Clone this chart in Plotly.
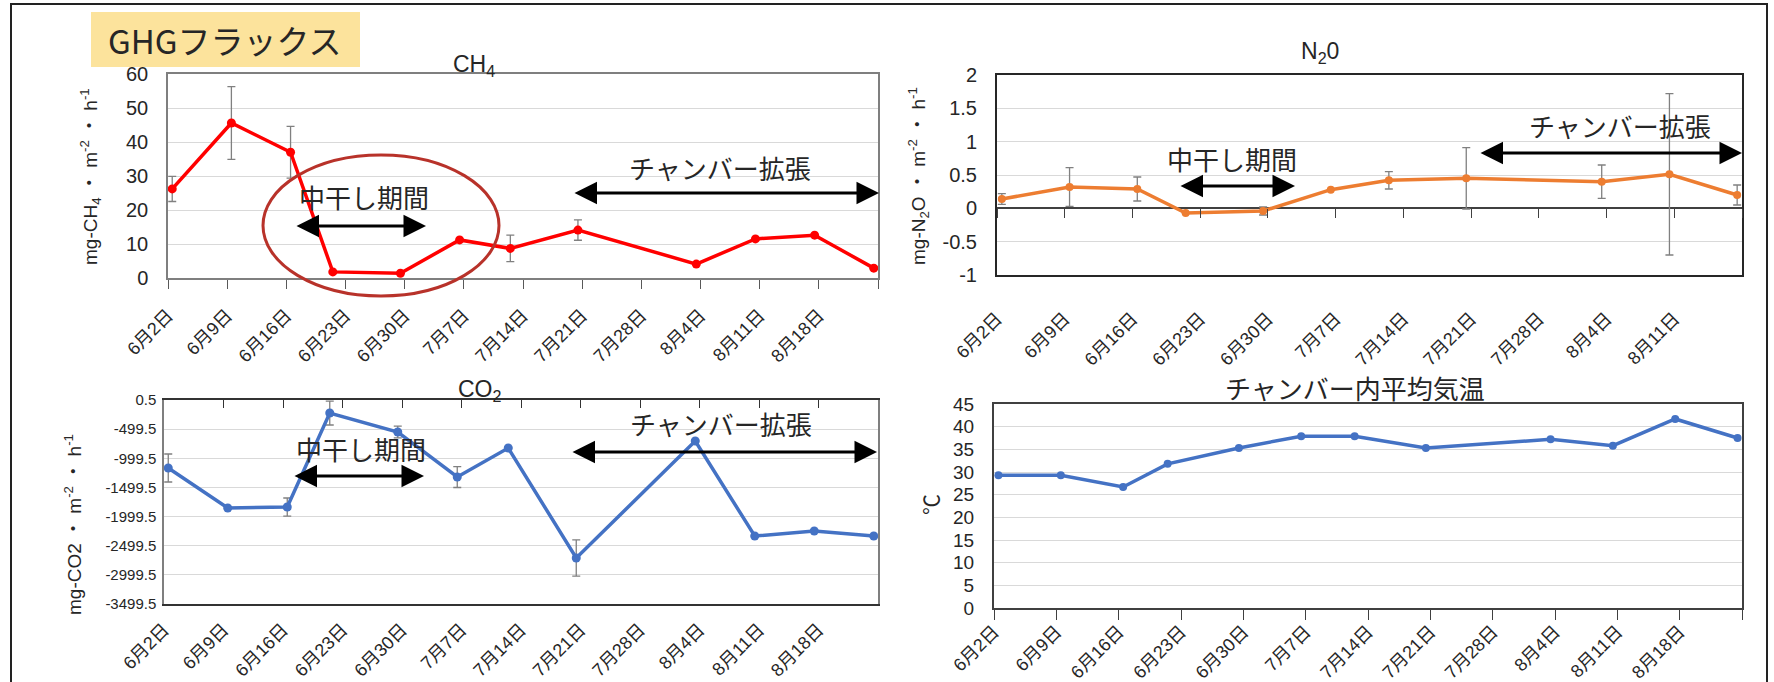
import plotly.graph_objects as go
import pandas as pd

W, H = 1774, 682

# ---------------- data ----------------
DATES = ["2023-06-02", "2023-06-09", "2023-06-16", "2023-06-21", "2023-06-29", "2023-07-06",
         "2023-07-12", "2023-07-20", "2023-08-03", "2023-08-10", "2023-08-17", "2023-08-24"]
CH4 = [26.2, 45.6, 37.0, 1.8, 1.4, 11.2, 8.7, 14.1, 4.1, 11.5, 12.6, 2.9]
CH4_ERR = [3.7, 10.7, 7.6, 0, 0, 0, 3.9, 3.0, 0, 0, 0, 0]

N2O_DATES = DATES[:11]
N2O = [0.14, 0.32, 0.29, -0.07, -0.04, 0.28, 0.42, 0.45, 0.40, 0.51, 0.20]
N2O_ERR = [0.08, 0.29, 0.18, 0, 0.06, 0, 0.13, 0.46, 0.25, 1.21, 0.15]

CO2 = [-1166, -1853, -1836, -223, -549, -1321, -823, -2711, -703, -2333, -2247, -2333]
CO2_ERR = [240, 0, 155, 205, 100, 180, 0, 310, 0, 0, 0, 0]

TEMP = [29.3, 29.3, 26.7, 31.8, 35.3, 37.9, 37.9, 35.3, 37.2, 35.8, 41.7, 37.5]

TICK_DATES = ["2023-06-02", "2023-06-09", "2023-06-16", "2023-06-23", "2023-06-30", "2023-07-07",
              "2023-07-14", "2023-07-21", "2023-07-28", "2023-08-04", "2023-08-11", "2023-08-18",
              "2023-08-25"]
TICK_LABELS = ["6月2日", "6月9日", "6月16日", "6月23日", "6月30日", "7月7日", "7月14日",
               "7月21日", "7月28日", "8月4日", "8月11日", "8月18日"]

CH4_YTICKS = [0, 10, 20, 30, 40, 50, 60]
N2O_YTICKS = [-1, -0.5, 0, 0.5, 1, 1.5, 2]
CO2_YTICKS = [0.5, -499.5, -999.5, -1499.5, -1999.5, -2499.5, -2999.5, -3499.5]
TEMP_YTICKS = [0, 5, 10, 15, 20, 25, 30, 35, 40, 45]

# ---------------- helpers ----------------
def px(x):
    return x / W

def py(y):
    return 1 - y / H

def lab(v):
    return f"{v:g}"

# Excel date axis plots each day in the middle of its day-bin
BIN = pd.Timedelta(hours=12)
xd = pd.to_datetime(DATES) + BIN
xd_n2o = pd.to_datetime(N2O_DATES) + BIN

FONT = "Liberation Sans, Arial, Noto Sans CJK JP, sans-serif"
JP = "Noto Sans CJK JP, sans-serif"
TXT = "#262626"
GRID = "#D9D9D9"
ERRC = "#808080"

fig = go.Figure()

def err(arr):
    return dict(type="data", array=arr, visible=True, color=ERRC, thickness=1.3, width=4)

fig.add_trace(go.Scatter(x=xd, y=CH4, xaxis="x", yaxis="y", mode="lines+markers",
                         line=dict(color="#FF0000", width=3.5),
                         marker=dict(size=9, color="#FF0000"), error_y=err(CH4_ERR)))
fig.add_trace(go.Scatter(x=xd_n2o, y=N2O, xaxis="x2", yaxis="y2", mode="lines+markers",
                         line=dict(color="#ED7D31", width=3.5),
                         marker=dict(size=8, color="#ED7D31"), error_y=err(N2O_ERR)))
fig.add_trace(go.Scatter(x=xd, y=CO2, xaxis="x3", yaxis="y3", mode="lines+markers",
                         line=dict(color="#4472C4", width=3.5),
                         marker=dict(size=9, color="#4472C4"), error_y=err(CO2_ERR)))
fig.add_trace(go.Scatter(x=xd, y=TEMP, xaxis="x4", yaxis="y4", mode="lines+markers",
                         line=dict(color="#4472C4", width=3.5),
                         marker=dict(size=8, color="#4472C4")))
# empty traces to host tick-only overlay axes
fig.add_trace(go.Scatter(x=[], y=[], xaxis="x5", yaxis="y2", showlegend=False))
fig.add_trace(go.Scatter(x=[], y=[], xaxis="x6", yaxis="y3", showlegend=False))

full_range = [TICK_DATES[0], TICK_DATES[-1]]
n2o_range = [TICK_DATES[0], TICK_DATES[-2]]

def xax(dom, anchor, rng, tickvals, ticktext, **kw):
    d = dict(domain=dom, anchor=anchor, type="date", range=rng, tickvals=tickvals,
             ticktext=ticktext, tickangle=-45, showgrid=False, zeroline=False,
             automargin=False,
             tickfont=dict(family=FONT, size=18, color=TXT), showline=True, mirror=True)
    d.update(kw)
    return d

def yax(dom, anchor, rng, ticks, **kw):
    d = dict(domain=dom, anchor=anchor, range=rng, tickvals=ticks, automargin=False,
             ticktext=[lab(v) for v in ticks], showgrid=True, gridcolor=GRID, gridwidth=1,
             zeroline=False, showline=True, mirror=True, ticks="",
             tickfont=dict(family=FONT, size=20, color=TXT))
    d.update(kw)
    return d

n2o_zero_px = 75 + (2 - 0) / 3 * 200

fig.update_layout(
    width=W, height=H, margin=dict(l=0, r=0, t=0, b=0, autoexpand=False),
    paper_bgcolor="white", plot_bgcolor="white", showlegend=False, hovermode=False,
    font=dict(family=FONT, color=TXT),
    # CH4
    xaxis=xax([px(168), px(878)], "y", full_range, TICK_DATES, TICK_LABELS + [""],
              ticks="outside", ticklen=9, tickcolor="#595959", linecolor="#7F7F7F", linewidth=1.5,
              ticklabelstandoff=9),
    yaxis=yax([py(278), py(74)], "x", [0, 60], CH4_YTICKS, linecolor="#7F7F7F", linewidth=1.5,
              ticklabelstandoff=14),
    # N2O
    xaxis2=xax([px(997), px(1742)], "y2", n2o_range, TICK_DATES[:12], TICK_LABELS[:11] + [""],
               ticks="", linecolor="#262626", linewidth=2, ticklabelstandoff=24),
    yaxis2=yax([py(275), py(75)], "x2", [-1, 2], N2O_YTICKS, linecolor="#262626", linewidth=2,
               zeroline=True, zerolinecolor="#404040", zerolinewidth=1.5, ticklabelstandoff=14),
    xaxis5=dict(overlaying="x2", anchor="free", position=py(n2o_zero_px), side="bottom",
                type="date", range=n2o_range, tickvals=TICK_DATES[:12], ticks="outside",
                ticklen=9, tickcolor="#404040", showticklabels=False, showline=False,
                showgrid=False, zeroline=False, automargin=False),
    # CO2
    xaxis3=xax([px(164), px(878)], "y3", full_range, TICK_DATES, TICK_LABELS + [""],
               ticks="", linecolor="#333333", linewidth=2, ticklabelstandoff=6),
    yaxis3=yax([py(604), py(400)], "x3", [-3499.5, 0.5], CO2_YTICKS, linecolor="#7F7F7F",
               linewidth=1.5, ticklabelstandoff=3,
               tickfont=dict(family="Liberation Sans Narrow, " + FONT, size=15, color=TXT)),
    xaxis6=dict(overlaying="x3", anchor="y3", side="top", type="date", range=full_range,
                tickvals=TICK_DATES, ticks="inside", ticklen=8, tickcolor="#333333",
                showticklabels=False, showline=False, showgrid=False, zeroline=False,
                automargin=False),
    # Temperature
    xaxis4=xax([px(994), px(1742)], "y4", full_range, TICK_DATES, TICK_LABELS + [""],
               ticks="outside", ticklen=10, tickcolor="#404040", linecolor="#404040", linewidth=2,
               ticklabelstandoff=-6),
    yaxis4=yax([py(608), py(404)], "x4", [0, 45], TEMP_YTICKS, linecolor="#404040", linewidth=2,
               ticklabelstandoff=14,
               tickfont=dict(family="Liberation Sans Narrow, " + FONT, size=19, color=TXT)),
)

ann = []

def text(x, y, s, size, family=FONT, angle=0):
    ann.append(dict(x=px(x), y=py(y), xref="paper", yref="paper", text=s, showarrow=False,
                    xanchor="center", yanchor="middle", textangle=angle,
                    font=dict(family=family, size=size, color=TXT)))

def darrow(x0, x1, y):
    ann.append(dict(x=px(x1), y=py(y), xref="paper", yref="paper", ax=-(x1 - x0), ay=0,
                    axref="pixel", ayref="pixel", text="", showarrow=True,
                    arrowside="end+start", arrowhead=2, arrowsize=1.5, arrowwidth=3,
                    arrowcolor="#000000", standoff=0, startstandoff=0))

# title box text
text(225, 40, "GHGフラックス", 33, JP)

# chart titles
text(474, 65, "CH<sub>4</sub>", 23)
text(1320, 52, "N<sub>2</sub>0", 23)
text(480, 390, "CO<sub>2</sub>", 23)
text(1355, 387, "チャンバー内平均気温", 26, JP)

# y axis titles
text(90, 177, "mg-CH<sub>4</sub> ・ m<sup>-2</sup> ・ h<sup>-1</sup>", 19, angle=-90)
text(918, 176, "mg-N<sub>2</sub>O ・ m<sup>-2</sup> ・ h<sup>-1</sup>", 19, angle=-90)
text(73, 525, "mg-CO2 ・ m<sup>-2</sup> ・ h<sup>-1</sup>", 19, angle=-90)
text(930, 505, "℃", 21, JP, angle=-90)

# period annotations
text(364, 197, "中干し期間", 26, JP)
darrow(295, 426, 226)
text(720, 167, "チャンバー拡張", 26, JP)
darrow(573, 879, 193)

text(1232, 158, "中干し期間", 26, JP)
darrow(1179, 1295, 186)
text(1620, 125, "チャンバー拡張", 26, JP)
darrow(1479, 1742, 153)

text(361, 448, "中干し期間", 26, JP)
darrow(293, 424, 476)
text(721, 423, "チャンバー拡張", 26, JP)
darrow(571, 877, 452)

fig.update_layout(annotations=ann)

shapes = [
    # slide border
    dict(type="rect", xref="paper", yref="paper", x0=px(11), x1=px(1767), y0=py(700), y1=py(4),
         line=dict(color="#222222", width=2), fillcolor="rgba(0,0,0,0)", layer="above"),
    # title box
    dict(type="rect", xref="paper", yref="paper", x0=px(91), x1=px(360), y0=py(67), y1=py(12),
         line=dict(width=0), fillcolor="#FCE39C", layer="below"),
    # red ellipse around mid-season drainage
    dict(type="circle", xref="paper", yref="paper", x0=px(263), x1=px(499), y0=py(296), y1=py(155),
         line=dict(color="#B8322A", width=3), fillcolor="rgba(0,0,0,0)", layer="above"),
]
fig.update_layout(shapes=shapes)

fig.write_html("out.html", config={"displayModeBar": False},
               post_script="document.body.style.margin='0px';")
